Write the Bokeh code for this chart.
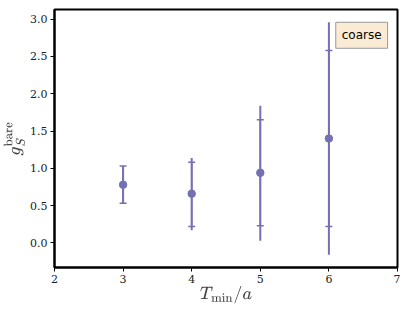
from bokeh.plotting import figure
from bokeh.models import (ColumnDataSource, Whisker, TeeHead, Label, Range1d, FixedTicker,
                          CustomJSTickFormatter)
from bokeh.embed import file_html
from bokeh.resources import INLINE

t_vals = [3, 4, 5, 6]
g_vals = [0.78, 0.66, 0.94, 1.40]
inner_lo = [0.53, 0.22, 0.23, 0.22]
inner_hi = [1.03, 1.08, 1.65, 2.58]
outer_lo = [0.53, 0.17, 0.03, -0.16]
outer_hi = [1.03, 1.14, 1.84, 2.96]
x_ticks = [2, 3, 4, 5, 6, 7]
y_ticks = [0.0, 0.5, 1.0, 1.5, 2.0, 2.5, 3.0]

color = "#7570b3"

src = ColumnDataSource(dict(t=t_vals, g=g_vals, ilo=inner_lo, ihi=inner_hi,
                            olo=outer_lo, ohi=outer_hi))

p = figure(width=400, height=306, output_backend="svg", toolbar_location=None,
           x_range=Range1d(2, 7), y_range=Range1d(-0.33, 3.13),
           min_border_left=53, min_border_right=3, min_border_top=9, min_border_bottom=30)

p.segment(x0="t", y0="olo", x1="t", y1="ohi", source=src, line_color=color, line_width=2)
w = Whisker(base="t", lower="ilo", upper="ihi", source=src,
            line_color=color, line_width=1.5,
            upper_head=TeeHead(size=7, line_color=color, line_width=1.5),
            lower_head=TeeHead(size=7, line_color=color, line_width=1.5))
p.add_layout(w)
p.scatter(x="t", y="g", source=src, size=7.5, fill_color=color, line_color=color)

p.xgrid.visible = False
p.ygrid.visible = False
p.outline_line_color = "black"
p.outline_line_width = 2

p.xaxis.ticker = FixedTicker(ticks=x_ticks)
p.yaxis.ticker = FixedTicker(ticks=y_ticks)
p.yaxis.formatter = CustomJSTickFormatter(code="return tick.toFixed(1);")
for ax in (p.xaxis, p.yaxis):
    ax.axis_line_color = "black"
    ax.axis_line_width = 2
    ax.major_tick_in = 0
    ax.major_tick_out = 4
    ax.minor_tick_line_color = None
    ax.major_label_text_font = "DejaVu Serif"
    ax.major_label_text_font_size = "11px"
    ax.major_label_text_color = "#222222"
    ax.major_label_standoff = 3
    ax.axis_label_text_font_style = "normal"
    ax.axis_label_text_font_size = "15px"

p.xaxis.axis_label = r"$$T_{\mathrm{min}}/a$$"
p.yaxis.axis_label = r"$$g_S^{\mathrm{bare}}$$"
p.xaxis.axis_label_standoff = 0
p.yaxis.axis_label_standoff = 2

lab = Label(x=6.10, y=2.61, text="coarse", text_font="DejaVu Sans", text_font_size="12px",
            text_color="black", background_fill_color="#faebd4",
            border_line_color="#999999", border_line_width=1,
            padding=6)
p.add_layout(lab)

open("out.html", "w").write(file_html(p, INLINE))
